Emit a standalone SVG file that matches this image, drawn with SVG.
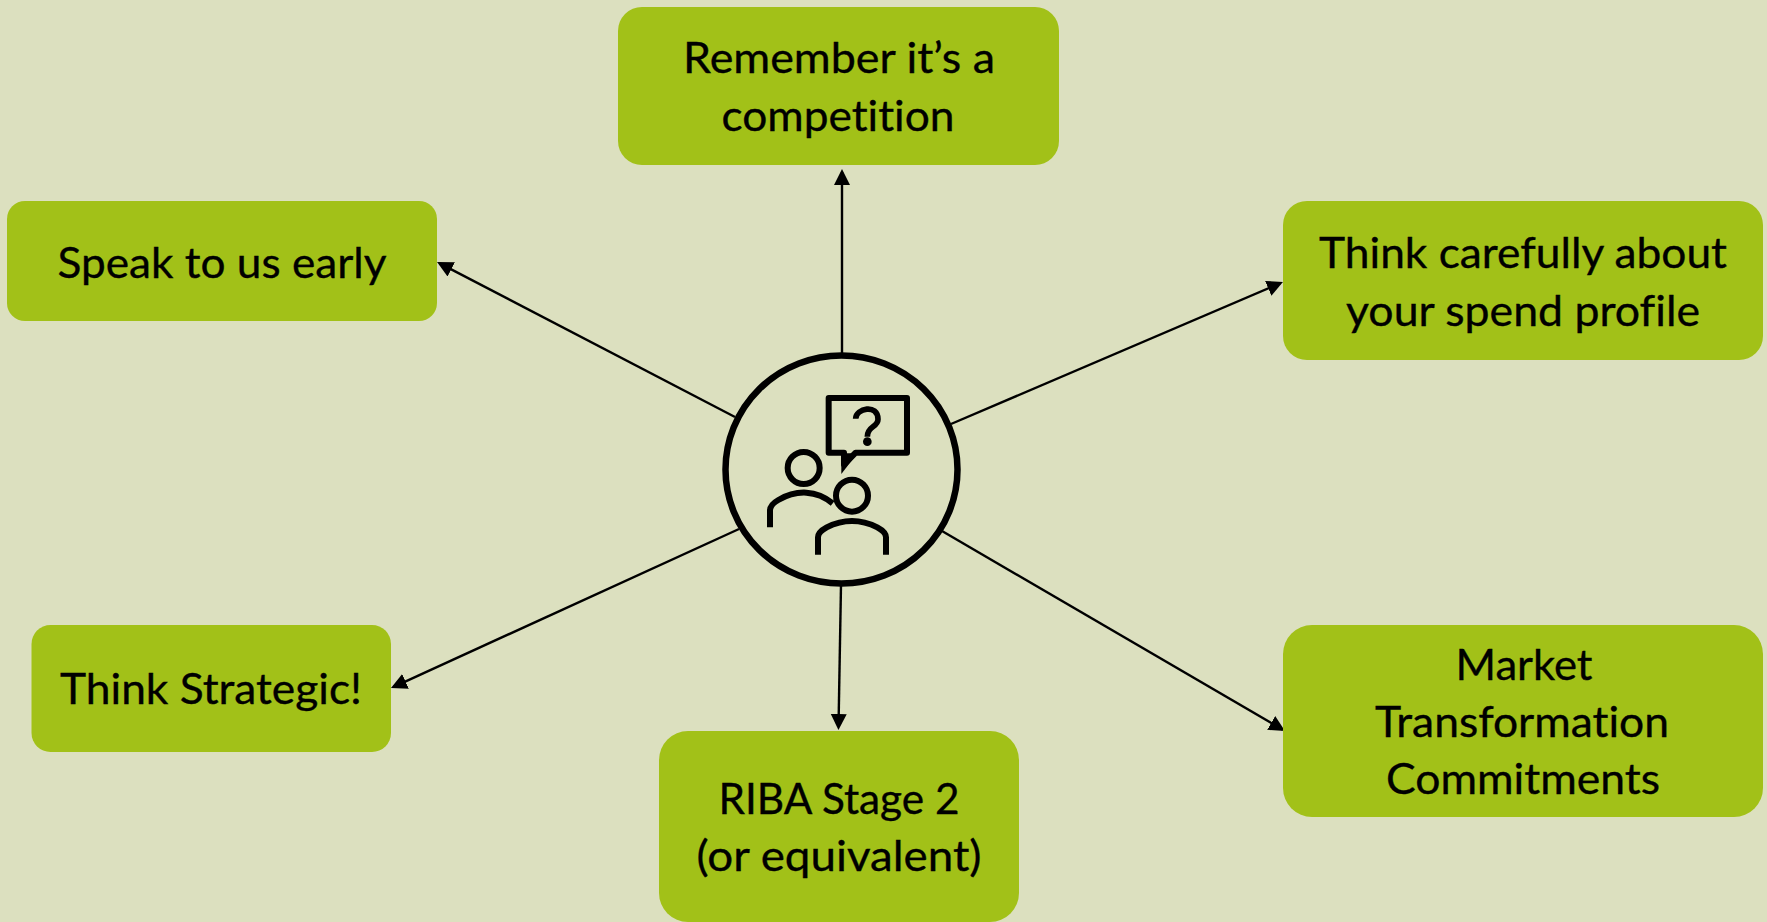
<svg xmlns="http://www.w3.org/2000/svg" width="1767" height="922" viewBox="0 0 1767 922">
<style>
.box{fill:#a2c118}
.t{font-family:Lato,"Liberation Sans",sans-serif;font-size:42px;fill:#000;text-anchor:middle;font-variant-ligatures:none;stroke:#000;stroke-width:.35}
.c{stroke:#000;stroke-width:2.4;fill:none;marker-end:url(#arrow)}
.i{fill:none;stroke:#000;stroke-width:18}
</style>
<defs><marker id="arrow" markerUnits="userSpaceOnUse" markerWidth="18" markerHeight="18" refX="13" refY="8" orient="auto"><path d="M0 0L16 8L0 16Z" fill="#000"/></marker></defs>
<rect width="1767" height="922" fill="#dce0bf"/>
<g id="connectors">
<path class="c" d="M842 353V172"/>
<path class="c" d="M735 417L439.700 263.400"/>
<path class="c" d="M951 424L1280.200 283.200"/>
<path class="c" d="M942 531L1282.400 729.500"/>
<path class="c" d="M739 529L393.700 686.800"/>
<path class="c" d="M841 585L838.500 727"/>
</g>
<g id="node-competition"><rect class="box" x="618" y="7" width="441" height="158" rx="24"/><text class="t" x="839" y="73" textLength="312" lengthAdjust="spacingAndGlyphs">Remember it’s a</text><text class="t" x="838" y="131" textLength="233" lengthAdjust="spacingAndGlyphs">competition</text></g>
<g id="node-early"><rect class="box" x="7" y="201" width="430" height="120" rx="18"/><text class="t" x="222" y="278" textLength="329" lengthAdjust="spacingAndGlyphs">Speak to us early</text></g>
<g id="node-spend"><rect class="box" x="1283" y="201" width="480" height="159" rx="24"/><text class="t" x="1523" y="268" textLength="408" lengthAdjust="spacingAndGlyphs">Think carefully about</text><text class="t" x="1523" y="326" textLength="354" lengthAdjust="spacingAndGlyphs">your spend profile</text></g>
<g id="node-market"><rect class="box" x="1283" y="625" width="480" height="192" rx="29"/><text class="t" x="1524" y="680" textLength="137" lengthAdjust="spacingAndGlyphs">Market</text><text class="t" x="1522" y="737" textLength="294" lengthAdjust="spacingAndGlyphs">Transformation</text><text class="t" x="1523" y="794" textLength="274" lengthAdjust="spacingAndGlyphs">Commitments</text></g>
<g id="node-strategic"><rect class="box" x="31.500" y="625" width="359.500" height="127" rx="19"/><text class="t" x="211" y="704" textLength="302" lengthAdjust="spacingAndGlyphs">Think Strategic!</text></g>
<g id="node-riba"><rect class="box" x="659" y="731" width="360" height="191" rx="29"/><text class="t" x="839" y="814" textLength="241" lengthAdjust="spacingAndGlyphs">RIBA Stage 2</text><text class="t" x="839" y="871" textLength="285" lengthAdjust="spacingAndGlyphs">(or equivalent)</text></g>
<g id="node-centre">
<ellipse cx="841.500" cy="469.500" rx="116" ry="114" fill="#dce0bf" stroke="#000" stroke-width="6.500"/>
<g transform="translate(700 340) scale(.33333)">
<path class="i" stroke-linejoin="round" d="M386 174H621V338H467L432 374V338H386Z"/>
<path fill="#000" d="M424 340H472L424 402Z"/>
<path class="i" style="stroke-width:17" d="M467 236C467 205 534 190 534 238C534 262 502 258 502 290"/>
<circle cx="502" cy="305" r="13" fill="#000"/>
<circle class="i" cx="311" cy="384" r="48"/>
<path class="i" d="M210 562V512Q210 494 235 480C290 448 350 450 398 490"/>
<circle class="i" cx="456" cy="467" r="48"/>
<path class="i" d="M354 644V592Q354 576 380 562Q456 524 532 562Q558 576 558 592V644"/>
</g>
</g>
</svg>
